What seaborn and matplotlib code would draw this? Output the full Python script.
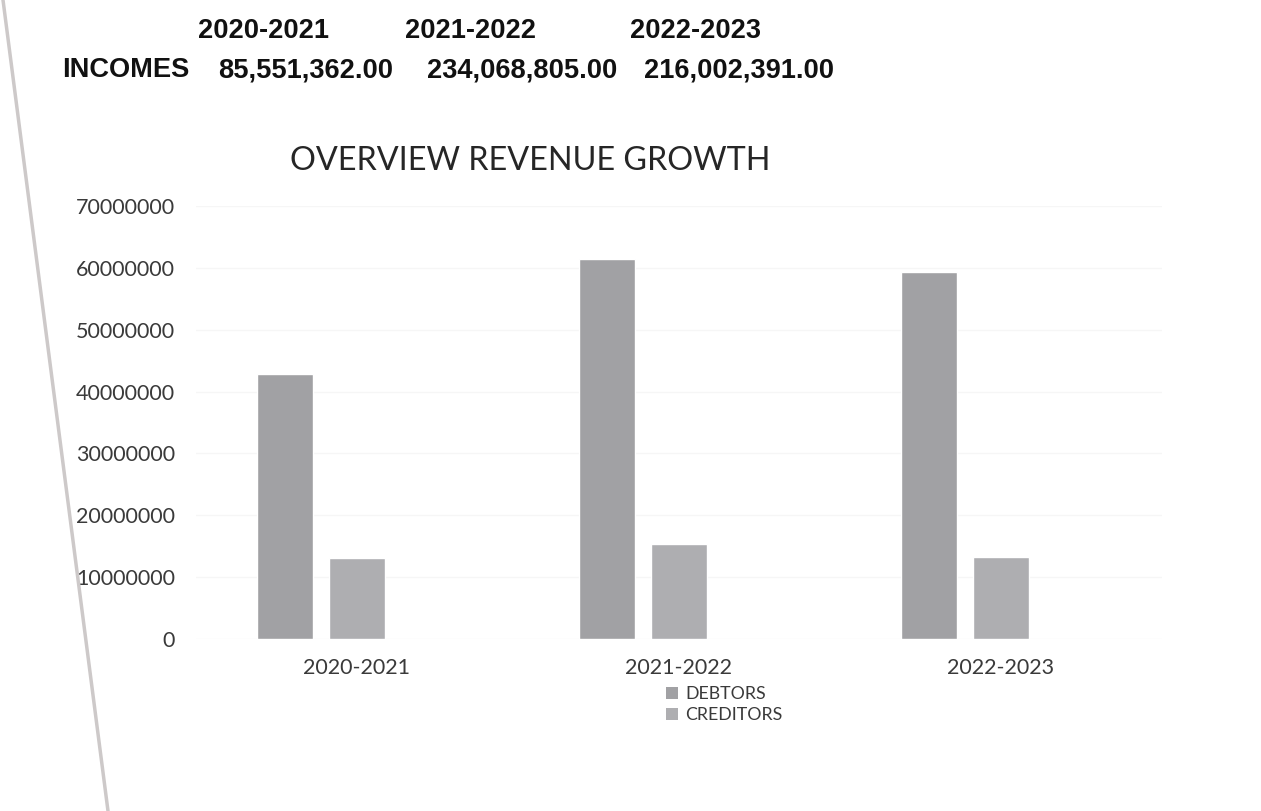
import matplotlib
matplotlib.use("Agg")
import matplotlib.pyplot as plt
from matplotlib.patches import Patch
from matplotlib.lines import Line2D
import pandas as pd
import seaborn as sns

# Financial years and chart series
periods = ["2020-2021", "2021-2022", "2022-2023"]
debtors = [42_900_000, 61_500_000, 59_300_000]
creditors = [13_100_000, 15_400_000, 13_300_000]
series = ["DEBTORS", "CREDITORS"]
# Income figures shown in the summary table above the chart
incomes = ["85,551,362.00", "234,068,805.00", "216,002,391.00"]
y_ticks = list(range(0, 70_000_001, 10_000_000))

sns.set_style("white")
plt.rcParams["font.family"] = ["Lato", "DejaVu Sans"]

df = pd.DataFrame({
    "period": periods * 2,
    "series": [series[0]] * 3 + [series[1]] * 3,
    "value": debtors + creditors,
})

W, H = 1261, 811
fig = plt.figure(figsize=(W / 100, H / 100), dpi=100)
fig.patch.set_facecolor("white")

# Summary table
table_font = dict(family=["Liberation Sans", "DejaVu Sans"], fontweight="bold",
                  fontsize=19.6, color="#111111")
header_left = [198, 405, 630]
for x, p in zip(header_left, periods):
    fig.text(x / W, 1 - 31 / H, p, ha="left", va="center", **table_font)
fig.text(62 / W, 1 - 70 / H, "INCOMES", ha="left", va="center", **table_font)
value_right = [393, 617, 834]
for x, v in zip(value_right, incomes):
    fig.text(x / W, 1 - 70 / H, v, ha="right", va="center", **table_font)

# Chart
ax = fig.add_axes([196 / W, 1 - 639 / H, 966 / W, 433 / H])
palette = {series[0]: "#a1a1a4", series[1]: "#aeaeb1", "": "#ffffff"}
sns.barplot(data=df, x="period", y="value", hue="series",
            hue_order=series + [""], order=periods, palette=palette,
            width=0.671, gap=0.222, errorbar=None, legend=False,
            saturation=1, ax=ax)

ax.set_xlim(-0.5, 2.5)
ax.set_ylim(0, 70_000_000)
ax.set_yticks(y_ticks)
ax.set_yticklabels([str(v) for v in y_ticks])
ax.set_xlabel("")
ax.set_ylabel("")
ax.yaxis.grid(True, color="#f6f6f6", lw=1)
ax.set_axisbelow(True)
for s in ax.spines.values():
    s.set_visible(False)
ax.tick_params(axis="both", length=0, labelsize=15.5, labelcolor="#3a3a3a")
ax.tick_params(axis="y", pad=15)
ax.tick_params(axis="x", pad=14)

fig.text(530 / W, 1 - 161 / H, "OVERVIEW REVENUE GROWTH", ha="center",
         va="center", fontsize=23.3, color="#262626")

handles = [Patch(facecolor=palette[s], edgecolor="none") for s in series]
fig.legend(handles, series, loc="upper left",
           bbox_to_anchor=(666 / W, 1 - 686 / H), frameon=False,
           fontsize=12.8, handlelength=0.65, handleheight=0.65,
           handletextpad=0.45, labelspacing=0.3, borderpad=0,
           borderaxespad=0, labelcolor="#3a3a3a")

# Page edge running down the left side
fig.add_artist(Line2D([3 / W, 108 / W], [1, 0], color="#cdc9c9", lw=2.5,
                      transform=fig.transFigure))

fig.savefig("out.png", dpi=100)
